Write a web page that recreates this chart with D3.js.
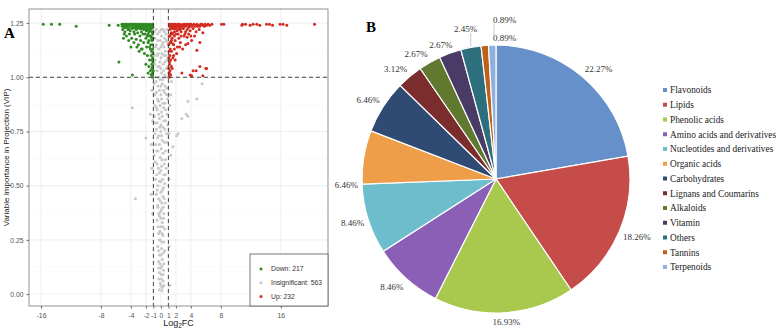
<!DOCTYPE html>
<html>
<head>
<meta charset="utf-8">
<script src="https://cdn.jsdelivr.net/npm/d3@7"></script>
<style>
  body { margin: 0; background: #fff; }
  svg { display: block; }
</style>
</head>
<body>
<div id="chart"></div>
<script>
// ---- panel A data (log2FC, VIP) ----
const xTicks = [-16, -8, -4, -2, -1, 0, 1, 2, 4, 8, 16];
const yTicks = [0, 0.25, 0.5, 0.75, 1.0, 1.25];
const legendLabels = ['Down: 217', 'Insignificant: 563', 'Up: 232'];

const downPts = [
  [-15.7,1.245],[-14.6,1.245],[-13.5,1.245],[-11.3,1.235],[-6.9,1.24],[-5.7,1.24],[-5.6,1.07],[-3.8,1.01],
  [-5.2,1.245],[-5.0,1.24],[-4.9,1.23],[-4.7,1.245],[-4.5,1.235],[-4.4,1.245],[-4.2,1.24],[-4.0,1.245],
  [-3.9,1.23],[-3.7,1.245],[-3.5,1.24],[-3.4,1.245],[-3.2,1.235],[-3.0,1.245],[-2.9,1.24],[-2.7,1.245],
  [-2.5,1.24],[-2.4,1.245],[-2.2,1.235],[-2.0,1.245],[-1.9,1.24],[-1.7,1.245],[-1.5,1.24],[-1.4,1.245],
  [-1.2,1.24],[-1.1,1.245],
  [-5.1,1.22],[-4.8,1.21],[-4.4,1.22],[-4.1,1.215],[-3.8,1.225],[-3.6,1.21],[-3.3,1.22],[-3.1,1.205],
  [-2.8,1.225],[-2.6,1.21],[-2.3,1.22],[-2.1,1.2],[-1.9,1.225],[-1.6,1.21],[-1.4,1.225],[-1.2,1.21],[-1.1,1.2],
  [-4.6,1.19],[-4.3,1.17],[-3.9,1.18],[-3.6,1.16],[-3.3,1.175],[-3.0,1.15],[-2.7,1.17],[-2.5,1.13],
  [-2.3,1.16],[-2.0,1.18],[-1.9,1.14],[-1.7,1.16],[-1.5,1.19],[-1.4,1.13],[-1.2,1.17],[-1.1,1.15],
  [-2.9,1.12],[-4.0,1.14],
  [-2.2,1.11],[-1.8,1.1],[-1.5,1.08],[-1.3,1.1],[-1.1,1.09],[-2.0,1.06],[-1.6,1.05],[-1.2,1.06],
  [-1.4,1.03],[-1.1,1.02],[-1.7,1.02],[-1.3,1.01],[-1.15,1.04],[-1.25,1.12],
  [-5.15,1.235],[-4.95,1.245],[-4.85,1.24],[-4.65,1.23],[-4.55,1.245],[-4.35,1.235],[-4.25,1.225],
  [-4.15,1.245],[-3.95,1.24],[-3.85,1.245],[-3.65,1.23],[-3.55,1.245],[-3.45,1.23],[-3.25,1.245],
  [-3.15,1.225],[-3.05,1.235],[-2.85,1.23],[-2.75,1.235],[-2.65,1.245],[-2.55,1.225],[-2.45,1.23],
  [-2.35,1.24],[-2.25,1.245],[-2.15,1.225],[-2.05,1.235],[-1.95,1.215],[-1.85,1.235],[-1.75,1.22],
  [-1.65,1.24],[-1.55,1.23],[-1.45,1.215],[-1.35,1.235],[-1.25,1.225],[-1.15,1.235],[-1.05,1.23],
  [-1.05,1.18],[-1.1,1.13],[-1.05,1.11],[-1.2,1.08],[-1.05,1.07],[-1.1,1.05],[-1.2,1.04],[-1.05,1.03],
  [-1.1,1.0],[-1.2,1.015],[-1.3,1.19],[-1.6,1.17],[-1.8,1.19],[-1.35,1.15],[-1.5,1.14],[-1.25,1.18],
  [-1.7,1.2],[-2.4,1.2],[-2.8,1.19],[-3.5,1.2],[-4.2,1.2],[-4.9,1.2],[-5.0,1.18],[-3.2,1.14],[-2.6,1.13]
];

const upPts = [
  [8.1,1.245],[8.4,1.245],[10.8,1.24],[10.9,1.245],[11.3,1.245],[11.9,1.24],[12.3,1.245],[12.8,1.245],
  [13.2,1.24],[14.1,1.245],[14.5,1.245],[14.9,1.24],[15.9,1.245],[16.3,1.245],[16.8,1.24],[20.5,1.245],
  [3.6,1.156],[4.8,1.125],[5.2,1.05],[6.0,1.04],[4.7,1.03],[3.9,1.01],[4.1,1.007],[5.6,1.007],
  [2.8,1.02],[4.3,1.03],[5.2,1.16],[6.1,1.04],
  [1.2,1.245],[1.4,1.24],[1.5,1.245],[1.7,1.235],[1.9,1.245],[2.0,1.24],[2.2,1.245],[2.4,1.235],
  [2.5,1.245],[2.7,1.24],[2.9,1.245],[3.1,1.235],[3.2,1.245],[3.4,1.24],[3.6,1.245],[3.8,1.235],
  [4.0,1.245],[4.2,1.24],[4.4,1.245],[4.6,1.235],[4.8,1.245],[5.0,1.24],[5.3,1.245],[5.6,1.24],
  [5.9,1.245],[6.3,1.245],
  [1.2,1.22],[1.4,1.205],[1.6,1.225],[1.8,1.21],[2.0,1.225],[2.3,1.2],[2.5,1.22],[2.7,1.21],
  [3.0,1.225],[3.3,1.21],[3.5,1.22],[3.9,1.215],[4.3,1.225],[4.7,1.21],[5.1,1.22],[5.6,1.205],
  [1.2,1.19],[1.3,1.16],[1.5,1.18],[1.7,1.15],[1.9,1.17],[2.2,1.14],[2.4,1.18],[2.6,1.16],
  [2.9,1.13],[3.1,1.19],[3.5,1.185],[4.1,1.17],[4.5,1.19],[1.4,1.12],[2.1,1.11],
  [1.2,1.1],[1.3,1.08],[1.15,1.06],[1.4,1.05],[1.2,1.03],[1.3,1.01],[1.6,1.09],[1.1,1.02],
  [1.5,1.04],[1.25,1.13],
  [1.15,1.235],[1.25,1.245],[1.35,1.23],[1.45,1.235],[1.55,1.225],[1.65,1.245],[1.75,1.225],
  [1.85,1.235],[1.95,1.23],[2.1,1.235],[2.15,1.215],[2.3,1.245],[2.35,1.225],[2.6,1.235],[2.65,1.225],
  [2.8,1.235],[3.0,1.24],[3.3,1.235],[3.5,1.245],[3.7,1.23],[3.9,1.245],[4.1,1.235],[4.5,1.24],
  [4.9,1.235],[5.2,1.235],[5.5,1.245],[5.8,1.235],[6.1,1.24],[6.5,1.24],[6.8,1.245],
  [1.1,1.19],[1.05,1.15],[1.1,1.12],[1.05,1.09],[1.15,1.07],[1.05,1.04],[1.1,1.0],[1.2,1.015],
  [1.35,1.2],[1.55,1.2],[1.8,1.19],[1.6,1.155],[1.25,1.16],[1.4,1.17],[2.0,1.2],[2.7,1.19],
  [3.2,1.2],[3.7,1.2],[4.0,1.19],[1.8,1.13],[2.5,1.14],[3.3,1.15],[1.7,1.1],[1.9,1.08]
];

const insigPts = [
  [-0.6,1.22],[-0.2,1.21],[0.3,1.22],[0.7,1.2],[-0.8,1.18],[-0.4,1.17],[0.1,1.19],[0.5,1.18],[0.9,1.16],
  [-0.7,1.14],[-0.3,1.13],[0.2,1.15],[0.6,1.12],[-0.9,1.1],[-0.5,1.1],[0.0,1.09],[0.4,1.1],[0.8,1.08],
  [-0.8,1.06],[-0.2,1.05],[0.3,1.06],[0.7,1.04],[-0.5,1.03],[0.1,1.02],[-0.7,1.0],[0.5,1.01],[-0.1,0.99],
  [-0.9,0.97],[-0.4,0.96],[0.2,0.97],[0.8,0.95],[5.5,0.97],[-0.6,0.93],[0.0,0.92],[0.5,0.93],[-1.2,0.94],
  [1.3,0.92],[-0.3,0.89],[0.3,0.88],[0.9,0.9],[-0.8,0.87],[3.6,0.89],[4.8,0.9],[-0.5,0.85],[0.1,0.84],
  [0.6,0.85],[-3.8,0.86],[-1.4,0.83],[-0.2,0.81],[0.4,0.8],[-0.8,0.79],[0.9,0.78],[2.8,0.81],[3.4,0.83],
  [3.6,0.82],[-0.6,0.76],[0.0,0.75],[0.5,0.76],[-0.3,0.73],[2.3,0.74],[2.1,0.73],[-2.0,0.72],[0.2,0.71],
  [0.8,0.7],[-0.7,0.69],[1.6,0.68],[-0.4,0.66],[0.3,0.65],[-0.1,0.63],[0.6,0.62],[-0.9,0.64],[-0.5,0.6],
  [0.1,0.59],[0.7,0.58],[-0.2,0.56],[0.4,0.55],[-0.7,0.53],[0.0,0.52],[0.5,0.51],[-0.4,0.5],[0.2,0.48],
  [-3.4,0.44],[-1.3,0.46],[-0.6,0.46],[0.3,0.45],[-0.1,0.43],[0.6,0.42],[-0.4,0.4],[0.1,0.39],[0.4,0.37],
  [-0.2,0.36],[-0.5,0.34],[0.2,0.33],[0.0,0.31],[0.5,0.3],[-0.3,0.28],[0.3,0.27],[-0.1,0.25],[0.4,0.24],
  [-0.4,0.22],[0.1,0.21],[0.5,0.2],[-0.2,0.18],[0.2,0.16],[-0.3,0.15],[0.4,0.14],[0.0,0.12],[-0.2,0.1],
  [0.3,0.09],[0.1,0.07],[-0.1,0.05],[0.4,0.04],[0.2,0.03],[1.2,0.04],
  [-0.45,1.2],[0.05,1.22],[0.45,1.21],[-0.85,1.21],[0.8,1.22],[-0.1,1.17],[0.3,1.16],[0.7,1.17],
  [-0.6,1.15],[0.0,1.14],[0.45,1.14],[-0.35,1.11],[0.15,1.11],[0.65,1.1],[-0.75,1.08],[-0.15,1.07],
  [0.55,1.07],[0.95,1.05],[-0.4,1.05],[0.0,1.04],[-0.9,1.03],[0.35,1.03],[-0.3,1.0],[0.25,0.99],
  [0.75,1.0],[-0.65,0.98],[0.0,0.96],[0.55,0.96],[-0.2,0.94],[0.35,0.94],[-0.8,0.92],[0.75,0.92],
  [-0.45,0.9],[0.1,0.9],[0.55,0.88],[-0.1,0.87],[-0.6,0.86],[0.35,0.86],[0.8,0.83],[-0.3,0.83],
  [-0.85,0.82],[0.2,0.82],[0.6,0.8],[-0.5,0.79],[0.0,0.78],[-0.15,0.77],[0.3,0.77],[0.75,0.74],
  [-0.8,0.74],[-0.45,0.72],[0.1,0.73],[0.45,0.7],[-0.2,0.69],[-0.55,0.66],[0.05,0.67],[0.6,0.66],
  [-0.75,0.61],[0.15,0.62],[0.45,0.6],[-0.35,0.58],[0.0,0.57],[0.6,0.55],[-0.55,0.55],[0.25,0.53],
  [-0.2,0.52],[0.35,0.49],[-0.5,0.48],[0.0,0.47],[0.45,0.44],[-0.3,0.44],[0.15,0.42],[-0.45,0.41],
  [0.3,0.4],[-0.05,0.38],[-0.3,0.37],[0.35,0.35],[0.0,0.35],[-0.35,0.31],[0.3,0.31],[-0.15,0.29],
  [0.15,0.28],[-0.2,0.25],[0.15,0.24],[-0.3,0.2],[0.3,0.19],[0.0,0.18],[-0.15,0.14],[0.15,0.13],
  [0.35,0.11],[-0.3,0.12],[0.05,0.09],[-0.25,0.07],[0.3,0.06],[0.0,0.04],[-0.2,0.02],[0.15,0.015],
  [1.4,0.98],[1.2,0.87],[-1.1,0.8],[1.1,0.74],[-1.3,0.69],[1.3,0.64],[-1.2,0.58],[1.1,0.53],
  [-1.1,0.37],[1.1,0.22]
];

// ---- panel B data ----
const pieCats = ['Flavonoids', 'Lipids', 'Phenolic acids', 'Amino acids and derivatives',
  'Nucleotides and derivatives', 'Organic acids', 'Carbohydrates', 'Lignans and Coumarins',
  'Alkaloids', 'Vitamin', 'Others', 'Tannins', 'Terpenoids'];
const pieVals = [22.27, 18.26, 16.93, 8.46, 8.46, 6.46, 6.46, 3.12, 2.67, 2.67, 2.45, 0.89, 0.89];
const pieColors = ['#6690c9', '#c64c4a', '#a8c84e', '#8b5fb5', '#6dbdcd', '#ee9d48', '#2f4b73',
  '#7b2d2d', '#61792f', '#4a3b66', '#2e6f7d', '#c0611a', '#8fb0dc'];

const W = 779, H = 332;
const svg = d3.select('#chart').append('svg')
  .attr('width', W)
  .attr('height', H)
  .style('font-family', '"Liberation Sans", Arial, sans-serif');

svg.append('rect').attr('width', W).attr('height', H).attr('fill', '#fff');

// ================= Panel A: volcano =================
const pL = 29, pR = 328, pT = 9, pB = 306;
const x = d3.scaleLinear().domain([-17.6, 22.3]).range([pL, pR]);
const y = d3.scaleLinear().domain([-0.055, 1.315]).range([pB, pT]);

const gA = svg.append('g');

// grid
const yMinor = d3.range(0.125, 1.3, 0.25);
gA.selectAll('.ymin').data(yMinor).enter().append('line')
  .attr('x1', pL).attr('x2', pR)
  .attr('y1', d => y(d)).attr('y2', d => y(d))
  .attr('stroke', '#f4f4f4').attr('stroke-width', 0.5);
gA.selectAll('.ygrid').data(yTicks).enter().append('line')
  .attr('x1', pL).attr('x2', pR)
  .attr('y1', d => y(d)).attr('y2', d => y(d))
  .attr('stroke', '#ebebeb').attr('stroke-width', 0.8);
gA.selectAll('.xgrid').data(xTicks).enter().append('line')
  .attr('y1', pT).attr('y2', pB)
  .attr('x1', d => x(d)).attr('x2', d => x(d))
  .attr('stroke', '#ebebeb').attr('stroke-width', 0.8);

// points
const dot = (data, cls, color) => {
  gA.selectAll('.' + cls).data(data).enter().append('circle')
    .attr('class', cls)
    .attr('cx', d => x(d[0]))
    .attr('cy', d => y(d[1]))
    .attr('r', 1.5)
    .attr('fill', color);
};
dot(insigPts, 'insig', '#c8c8c8');
dot(downPts, 'down', '#2f8a22');
dot(upPts, 'up', '#d22b1f');

// threshold lines
[-1, 1].forEach(v => {
  gA.append('line')
    .attr('x1', x(v)).attr('x2', x(v))
    .attr('y1', pT).attr('y2', pB)
    .attr('stroke', '#333').attr('stroke-width', 0.9)
    .attr('stroke-dasharray', '4,3');
});
gA.append('line')
  .attr('x1', pL).attr('x2', pR)
  .attr('y1', y(1)).attr('y2', y(1))
  .attr('stroke', '#333').attr('stroke-width', 0.9)
  .attr('stroke-dasharray', '4,3');

// axes
const xAxis = gA.append('g')
  .attr('transform', `translate(0,${pB})`)
  .call(d3.axisBottom(x).tickValues(xTicks).tickSize(2.5).tickFormat(d => String(d)));
const yAxis = gA.append('g')
  .attr('transform', `translate(${pL},0)`)
  .call(d3.axisLeft(y).tickValues(yTicks).tickSize(2.5).tickFormat(d3.format('.2f')));
[xAxis, yAxis].forEach(a => {
  a.select('.domain').remove();
  a.selectAll('line').attr('stroke', '#666');
  a.selectAll('text').attr('fill', '#555')
    .style('font-size', '6.8px')
    .style('font-family', '"Liberation Sans", Arial, sans-serif');
});
xAxis.selectAll('text').attr('dy', '0.9em');

// panel border
gA.append('rect')
  .attr('x', pL).attr('y', pT)
  .attr('width', pR - pL).attr('height', pB - pT)
  .attr('fill', 'none').attr('stroke', '#777').attr('stroke-width', 0.8);

// axis titles
const xt = gA.append('text')
  .attr('x', (pL + pR) / 2).attr('y', 326)
  .attr('text-anchor', 'middle')
  .style('font-size', '9px').attr('fill', '#222');
xt.append('tspan').text('Log');
xt.append('tspan').attr('dy', 2).style('font-size', '6.5px').text('2');
xt.append('tspan').attr('dy', -2).text('FC');

gA.append('text')
  .attr('transform', `translate(9,${(pT + pB) / 2}) rotate(-90)`)
  .attr('text-anchor', 'middle')
  .style('font-size', '8px').attr('fill', '#222')
  .text('Variable Importance in Projection (VIP)');

// legend
const lg = gA.append('g');
lg.append('rect')
  .attr('x', 250).attr('y', 254)
  .attr('width', pR - 250).attr('height', pB - 254)
  .attr('fill', '#fff').attr('stroke', '#555').attr('stroke-width', 0.8);
const legColors = ['#2f8a22', '#c8c8c8', '#d22b1f'];
legendLabels.forEach((t, i) => {
  lg.append('circle').attr('cx', 261).attr('cy', 269 + i * 13.7).attr('r', 1.5).attr('fill', legColors[i]);
  lg.append('text').attr('x', 271).attr('y', 269 + i * 13.7).attr('dy', '0.35em')
    .style('font-size', '6.8px').attr('fill', '#333').text(t);
});

// panel letter
svg.append('text').attr('x', 4).attr('y', 38)
  .style('font-family', '"Liberation Serif", "Times New Roman", serif')
  .style('font-weight', 'bold').style('font-size', '15px').text('A');

// ================= Panel B: pie =================
const cx = 496, cy = 179, R = 134;
const gB = svg.append('g').attr('transform', `translate(${cx},${cy})`);
const pie = d3.pie().sort(null).value(d => d)(pieVals);
const arc = d3.arc().innerRadius(0).outerRadius(R);

gB.selectAll('path').data(pie).enter().append('path')
  .attr('d', arc)
  .attr('fill', (d, i) => pieColors[i])
  .attr('stroke', '#fff').attr('stroke-width', 1.2);

const serif = '"Liberation Serif", "Times New Roman", serif';
const clamp = v => Math.max(-1, Math.min(1, v));
const n = pieVals.length;
pie.forEach((d, i) => {
  const txt = d.data.toFixed(2) + '%';
  const t = gB.append('text').attr('dy', '0.35em')
    .style('font-family', serif).style('font-size', '9px').attr('fill', '#333').text(txt);
  const hw = t.node().getComputedTextLength() / 2, hh = 5;
  // organic acids label sits at the lower edge of its slice in the original
  const a = pieCats[i] === 'Organic acids' ? d.startAngle : (d.startAngle + d.endAngle) / 2;
  const dx = Math.sin(a), dy = -Math.cos(a);
  if (i >= n - 2) {
    // the two tiny slices: labels stacked above the 12 o'clock edge
    const k = n - 1 - i;
    const ly = -R - 7 - k * 18;
    t.attr('x', -3).attr('y', ly);
    if (k === 1) {
      gB.append('line').attr('x1', -2).attr('x2', -2)
        .attr('y1', ly + 3).attr('y2', ly + 15)
        .attr('stroke', '#bbb').attr('stroke-width', 0.8);
    }
    return;
  }
  // outside-end label: box pushed out from a point just past the rim
  const px = dx * (R + 4), py = dy * (R + 4);
  let lx = px + clamp(dx * 2) * hw, ly = py + clamp(dy * 2) * hh;
  if (i === n - 3) {
    // lifted above the thin slices, with a leader back to the rim
    ly = -R - 16;
    gB.append('line').attr('x1', dx * (R + 1)).attr('x2', dx * (R + 1))
      .attr('y1', ly + 4).attr('y2', dy * (R + 1))
      .attr('stroke', '#bbb').attr('stroke-width', 0.8);
  }
  t.attr('x', lx).attr('y', ly).attr('text-anchor', 'middle');
});

// pie legend
const lgB = svg.append('g');
pieCats.forEach((t, i) => {
  const ly = 90 + i * 14.75;
  lgB.append('rect').attr('x', 663).attr('y', ly - 2).attr('width', 4).attr('height', 4)
    .attr('fill', pieColors[i]);
  lgB.append('text').attr('x', 670).attr('y', ly).attr('dy', '0.35em')
    .style('font-family', serif).style('font-size', '9.3px').attr('fill', '#222').text(t);
});

svg.append('text').attr('x', 366).attr('y', 32)
  .style('font-family', serif)
  .style('font-weight', 'bold').style('font-size', '15px').text('B');
</script>
</body>
</html>
